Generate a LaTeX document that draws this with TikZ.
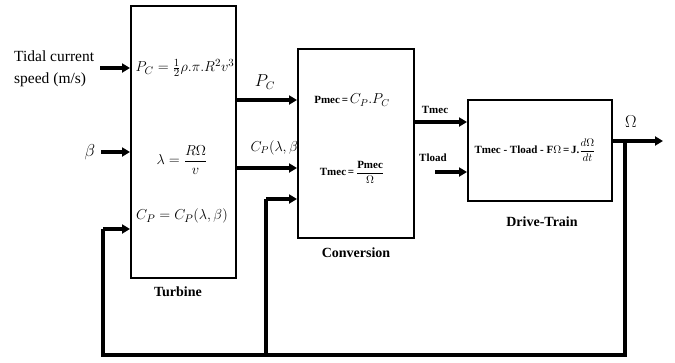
\documentclass[tikz,border=0pt]{standalone}
\usepackage{amsmath,amssymb}
\usepackage{fontspec}
\setmainfont{Liberation Serif}
\usetikzlibrary{arrows.meta}

\begin{document}
\begin{tikzpicture}[x=1pt,y=-1pt]
    \tikzstyle{block} = [rectangle, draw, line width=1.6pt, inner sep=0pt, anchor=north west]
    \tikzstyle{arrow} = [line width=3.2pt,-{Triangle[length=8pt,width=9pt]}]
    \tikzstyle{wire} = [line width=3.2pt]
    \tikzstyle{caption} = [font=\bfseries\fontsize{14}{16}\selectfont]
    \tikzstyle{eqn} = [font=\fontsize{15}{17}\selectfont]
    \tikzstyle{tag} = [font=\bfseries\fontsize{11}{13}\selectfont]
    \useasboundingbox (0,0) rectangle (675,362);

    \node[block, minimum width=105pt, minimum height=272pt] (turbine) at (130,5) {};
    \node[block, minimum width=116pt, minimum height=189pt] (conv) at (297,48) {};
    \node[block, minimum width=144pt, minimum height=101pt] (drive) at (467,99) {};

    \node[caption] (turbinelbl) at (178,292) {Turbine};
    \node[caption] (convlbl) at (356,253) {Conversion};
    \node[caption] (drivelbl) at (542,222) {Drive-Train};

    % turbine equations
    \node[eqn, inner sep=0pt] (eqpc) at (185,68) {$P_C=\frac{1}{2}\rho.\pi.R^2v^3$};
    \node[eqn] (eqlam) at (182,160) {$\lambda=\dfrac{R\Omega}{v}$};
    \node[eqn] (eqcp) at (182,216) {$C_P=C_P(\lambda,\beta)$};

    % conversion equations
    \node[tag] (eqpmec) at (352,100) {Pmec\,=\,{\fontsize{14}{16}\selectfont$C_P.P_C$}};
    \node[tag] (eqtmec) at (352,172) {Tmec\,=\,$\dfrac{\text{\bfseries Pmec}}{\Omega}$};

    % drive-train equation
    \node[tag, inner sep=0pt] (eqdrive) at (535,150) {Tmec - Tload - F$\Omega$\,=\,J.$\dfrac{d\Omega}{dt}$};

    % inputs
    \node[align=left, font=\fontsize{15.5}{22}\selectfont, anchor=west, inner sep=0pt] (tidal) at (14,69) {Tidal current\\speed (m/s)};
    \node[font=\fontsize{17}{19}\selectfont] (beta) at (90,152) {$\beta$};
    \coordinate (tidalin) at (100,68);
    \coordinate (betain) at (101,152);
    \draw[arrow] (tidalin) -- (tidalin -| turbine.west);
    \draw[arrow] (betain) -- (betain -| turbine.west);

    % turbine to conversion
    \coordinate (pcout) at (235,100);
    \coordinate (cpout) at (235,168);
    \draw[arrow] (pcout) -- (pcout -| conv.west);
    \draw[arrow] (cpout) -- (cpout -| conv.west);
    \node[font=\fontsize{16}{18}\selectfont] (pclbl) at (265,82) {$P_C$};
    \node[font=\fontsize{14}{16}\selectfont, anchor=east, inner sep=0pt] (cplbl) at (298,148) {$C_P(\lambda,\beta$};

    % conversion to drive-train
    \coordinate (tmecout) at (413,122);
    \coordinate (tloadin) at (435,172);
    \draw[arrow] (tmecout) -- (tmecout -| drive.west);
    \draw[arrow] (tloadin) -- (tloadin -| drive.west);
    \node[tag] (tmeclbl) at (435,110) {Tmec};
    \node[tag] (tloadlbl) at (433,158) {Tload};

    % output and feedback
    \coordinate (omout) at (611,141);
    \coordinate (omend) at (663,141);
    \coordinate (split) at (625,141);
    \coordinate (botright) at (625,355);
    \coordinate (botleft) at (103,355);
    \coordinate (botmid) at (266,355);
    \coordinate (fbturb) at (103,229);
    \coordinate (fbconv) at (266,199);
    \draw[arrow] (omout) -- (omend);
    \node[font=\fontsize{17}{19}\selectfont] (omlbl) at (631,122) {$\Omega$};
    \draw[wire] (split) -- (botright) -- (botleft) -- (fbturb);
    \draw[arrow] (fbturb) -- (fbturb -| turbine.west);
    \draw[wire] (botmid) -- (fbconv);
    \draw[arrow] (fbconv) -- (fbconv -| conv.west);
\end{tikzpicture}
\end{document}
